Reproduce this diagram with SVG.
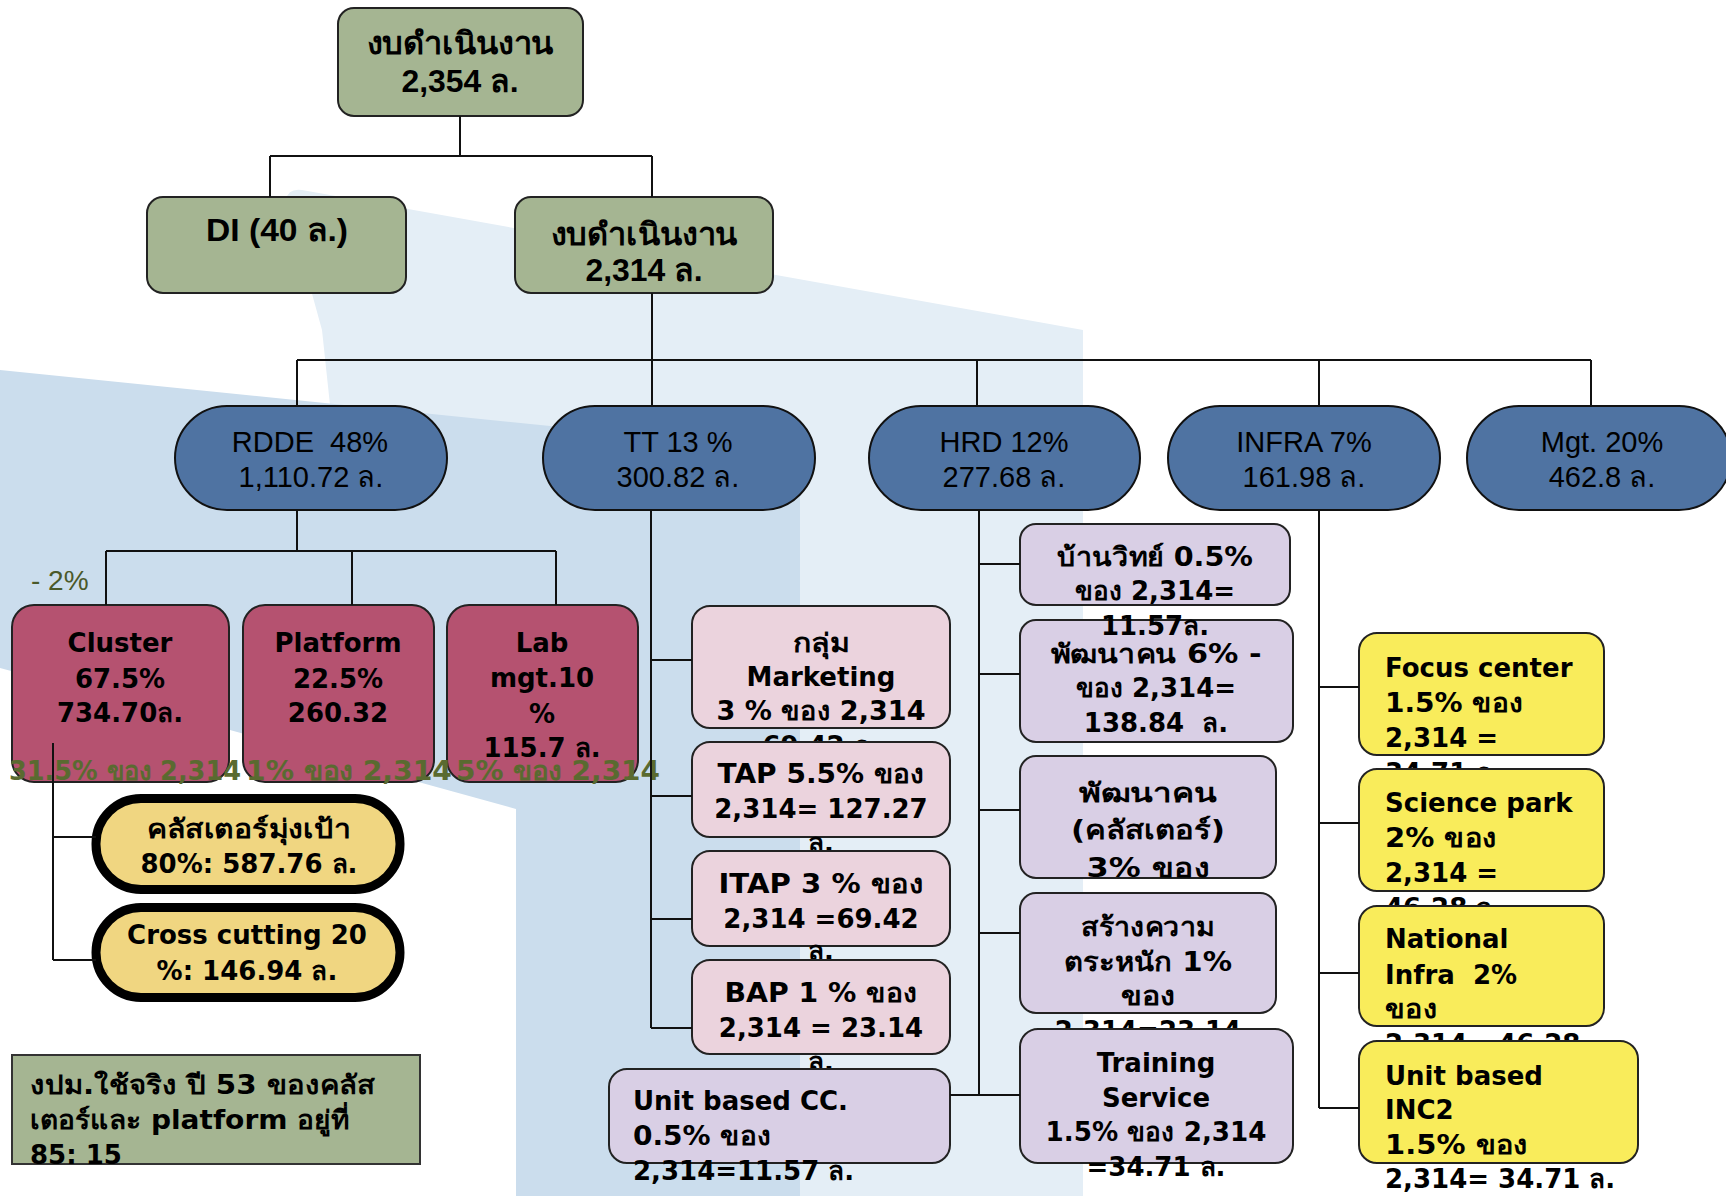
<svg xmlns="http://www.w3.org/2000/svg" width="1726" height="1196" viewBox="0 0 1726 1196">
<style>
.t{font-family:"DejaVu Sans","Noto Sans",sans-serif;font-weight:bold;font-size:26px;fill:#000}
.a{font-family:"Liberation Sans",Arial,sans-serif;fill:#000}
.ab{font-family:"Liberation Sans",Arial,sans-serif;font-weight:bold;font-size:31px;fill:#000}
.bn{font-family:"Liberation Sans",Arial,sans-serif;font-size:29px;fill:#000}
.m{text-anchor:middle}
.ol{font-family:"DejaVu Sans","Noto Sans",sans-serif;font-weight:bold;font-size:27px;fill:#5a6a30}
.ln{stroke:#111;stroke-width:2;fill:none}
.green{fill:#a5b592;stroke:#222;stroke-width:2}
.blue{fill:#4f73a2;stroke:#111;stroke-width:2}
.red{fill:#b55270;stroke:#222;stroke-width:2}
.pink{fill:#ebd3dd;stroke:#222;stroke-width:2}
.lav{fill:#d9cfe5;stroke:#222;stroke-width:2}
.yel{fill:#f9ec5b;stroke:#222;stroke-width:2}
.gold{fill:#f0d681;stroke:#000;stroke-width:9}
</style>
<defs>
<clipPath id="clipHrd3"><rect x="1020" y="756" width="256" height="122" rx="16"/></clipPath>
</defs>
<rect width="1726" height="1196" fill="#fff"/>
<g id="background">
<path d="M286,200 Q288,188 302,190 L1083,330 L1083,1196 L800,1196 L800,480 L330,405 L322,330 Q300,250 286,200 Z" fill="#e4eef6"/>
<polygon points="0,370 560,427 800,488 800,1196 516,1196 516,809 230,730 0,668" fill="#cbdded"/>
</g>

<g id="n-top"><rect class="green" x="338" y="8" width="245" height="108" rx="16"/>
<text class="ab m" x="460" y="54" textLength="187" lengthAdjust="spacingAndGlyphs">งบดำเนินงาน</text><text class="ab m" x="460" y="92" textLength="117" lengthAdjust="spacingAndGlyphs">2,354 ล.</text></g>
<g id="n-di"><rect class="green" x="147" y="197" width="259" height="96" rx="16"/>
<text class="ab m" x="277" y="241" textLength="142" lengthAdjust="spacingAndGlyphs">DI (40 ล.)</text></g>
<g id="n-ops"><rect class="green" x="515" y="197" width="258" height="96" rx="16"/>
<text class="ab m" x="644" y="245" textLength="187" lengthAdjust="spacingAndGlyphs">งบดำเนินงาน</text><text class="ab m" x="644" y="281" textLength="117" lengthAdjust="spacingAndGlyphs">2,314 ล.</text></g>

<g id="n-rdde"><rect class="blue" x="175" y="406" width="272" height="104" rx="52"/>
<text class="bn m" x="310" y="452" xml:space="preserve">RDDE  48%</text><text class="bn m" x="311" y="487">1,110.72 ล.</text></g>
<g id="n-tt"><rect class="blue" x="543" y="406" width="272" height="104" rx="52"/>
<text class="bn m" x="678" y="452">TT 13 %</text><text class="bn m" x="678" y="487">300.82 ล.</text></g>
<g id="n-hrd"><rect class="blue" x="869" y="406" width="271" height="104" rx="52"/>
<text class="bn m" x="1004" y="452">HRD 12%</text><text class="bn m" x="1004" y="487">277.68 ล.</text></g>
<g id="n-infra"><rect class="blue" x="1168" y="406" width="272" height="104" rx="52"/>
<text class="bn m" x="1304" y="452">INFRA 7%</text><text class="bn m" x="1304" y="487">161.98 ล.</text></g>
<g id="n-mgt"><rect class="blue" x="1467" y="406" width="264" height="104" rx="52"/>
<text class="bn m" x="1602" y="452">Mgt. 20%</text><text class="bn m" x="1602" y="487">462.8 ล.</text></g>

<text class="a" x="31" y="590" font-size="28" style="fill:#4a592a">- 2%</text>

<g id="n-cluster"><rect class="red" x="12" y="605" width="217" height="177" rx="22"/>
<text class="t m" x="120" y="652">Cluster</text><text class="t m" x="120" y="688">67.5%</text><text class="t m" x="120" y="722">734.70ล.</text></g>
<g id="n-platform"><rect class="red" x="243" y="605" width="191" height="177" rx="22"/>
<text class="t m" x="338" y="652">Platform</text><text class="t m" x="338" y="688">22.5%</text><text class="t m" x="338" y="722">260.32</text></g>
<g id="n-lab"><rect class="red" x="447" y="605" width="191" height="177" rx="22"/>
<text class="t m" x="542" y="652">Lab</text><text class="t m" x="542" y="687">mgt.10</text><text class="t m" x="542" y="723">%</text><text class="t m" x="542" y="757">115.7 ล.</text></g>
<g id="overlay-labels">
<text class="ol" x="9" y="780" textLength="232" lengthAdjust="spacingAndGlyphs">31.5% ของ 2,314</text>
<text class="ol" x="246" y="780" textLength="206" lengthAdjust="spacingAndGlyphs">1% ของ 2,314</text>
<text class="ol" x="456" y="780" textLength="204" lengthAdjust="spacingAndGlyphs">5% ของ 2,314</text>
</g>

<g id="n-target"><rect class="gold" x="96" y="798.5" width="304" height="91" rx="45"/>
<text class="t m" x="249" y="838" textLength="204" lengthAdjust="spacingAndGlyphs">คลัสเตอร์มุ่งเป้า</text><text class="t m" x="249" y="873">80%: 587.76 ล.</text></g>
<g id="n-cross"><rect class="gold" x="96" y="907.5" width="304" height="90" rx="45"/>
<text class="t m" x="247" y="944">Cross cutting 20</text><text class="t m" x="247" y="980">%: 146.94 ล.</text></g>

<g id="n-note"><rect x="12" y="1055" width="408" height="109" fill="#a5b592" stroke="#333" stroke-width="2"/>
<text class="t" x="30" y="1094" textLength="345" lengthAdjust="spacingAndGlyphs">งปม.ใช้จริง ปี 53 ของคลัส</text><text class="t" x="30" y="1129" textLength="319" lengthAdjust="spacingAndGlyphs">เตอร์และ platform อยู่ที่</text><text class="t" x="30" y="1164">85: 15</text></g>

<g id="n-mkt"><rect class="pink" x="692" y="606" width="258" height="122" rx="18"/>
<text class="t m" x="821" y="652" textLength="57" lengthAdjust="spacingAndGlyphs">กลุ่ม</text><text class="t m" x="821" y="686">Marketing</text><text class="t m" x="821" y="720" textLength="209" lengthAdjust="spacingAndGlyphs">3 % ของ 2,314</text><text class="t m" x="821" y="755">69.42 ล.</text></g>
<g id="n-tap"><rect class="pink" x="692" y="742" width="258" height="95" rx="18"/>
<text class="t m" x="821" y="783" textLength="207" lengthAdjust="spacingAndGlyphs">TAP 5.5% ของ</text><text class="t m" x="821" y="818">2,314= 127.27</text><text class="t m" x="821" y="852">ล.</text></g>
<g id="n-itap"><rect class="pink" x="692" y="851" width="258" height="95" rx="18"/>
<text class="t m" x="821" y="893" textLength="205" lengthAdjust="spacingAndGlyphs">ITAP 3 % ของ</text><text class="t m" x="821" y="928">2,314 =69.42</text><text class="t m" x="821" y="960">ล.</text></g>
<g id="n-bap"><rect class="pink" x="692" y="960" width="258" height="94" rx="18"/>
<text class="t m" x="821" y="1002" textLength="193" lengthAdjust="spacingAndGlyphs">BAP 1 % ของ</text><text class="t m" x="821" y="1037">2,314 = 23.14</text><text class="t m" x="821" y="1071">ล.</text></g>
<g id="n-ucc"><rect class="lav" x="609" y="1069" width="341" height="94" rx="18"/>
<text class="t" x="633" y="1110">Unit based CC.</text><text class="t" x="633" y="1145" textLength="138" lengthAdjust="spacingAndGlyphs">0.5% ของ</text><text class="t" x="633" y="1180">2,314=11.57 ล.</text></g>

<g id="n-hrd2"><rect class="lav" x="1020" y="620" width="273" height="122" rx="16"/>
<text class="t m" x="1156" y="663" textLength="211" lengthAdjust="spacingAndGlyphs">พัฒนาคน 6% -</text><text class="t m" x="1156" y="697" textLength="160" lengthAdjust="spacingAndGlyphs">ของ 2,314=</text><text class="t m" x="1156" y="732" xml:space="preserve">138.84  ล.</text></g>
<g id="n-hrd1"><rect class="lav" x="1020" y="524" width="270" height="81" rx="16"/>
<text class="t m" x="1155" y="566" textLength="196" lengthAdjust="spacingAndGlyphs">บ้านวิทย์ 0.5%</text><text class="t m" x="1155" y="600" textLength="160" lengthAdjust="spacingAndGlyphs">ของ 2,314=</text><text class="t m" x="1155" y="635">11.57ล.</text></g>
<g id="n-hrd3"><rect class="lav" x="1020" y="756" width="256" height="122" rx="16"/>
<g clip-path="url(#clipHrd3)"><text class="t m" x="1148" y="802" textLength="138" lengthAdjust="spacingAndGlyphs">พัฒนาคน</text><text class="t m" x="1148" y="839" textLength="154" lengthAdjust="spacingAndGlyphs">(คลัสเตอร์)</text><text class="t m" x="1148" y="877" textLength="123" lengthAdjust="spacingAndGlyphs">3% ของ</text></g></g>
<g id="n-hrd4"><rect class="lav" x="1020" y="893" width="256" height="120" rx="16"/>
<text class="t m" x="1148" y="936" textLength="134" lengthAdjust="spacingAndGlyphs">สร้างความ</text><text class="t m" x="1148" y="971" textLength="168" lengthAdjust="spacingAndGlyphs">ตระหนัก 1%</text><text class="t m" x="1148" y="1005" textLength="55" lengthAdjust="spacingAndGlyphs">ของ</text><text class="t m" x="1148" y="1040">2,314=23.14</text></g>
<g id="n-hrd5"><rect class="lav" x="1020" y="1029" width="273" height="134" rx="18"/>
<text class="t m" x="1156" y="1072">Training</text><text class="t m" x="1156" y="1107">Service</text><text class="t m" x="1156" y="1141" textLength="221" lengthAdjust="spacingAndGlyphs">1.5% ของ 2,314</text><text class="t m" x="1156" y="1176">=34.71 ล.</text></g>

<g id="n-focus"><rect class="yel" x="1359" y="633" width="245" height="122" rx="18"/>
<text class="t" x="1385" y="677">Focus center</text><text class="t" x="1385" y="712" textLength="138" lengthAdjust="spacingAndGlyphs">1.5% ของ</text><text class="t" x="1385" y="747">2,314 =</text><text class="t" x="1385" y="782">34.71 ล.</text></g>
<g id="n-sci"><rect class="yel" x="1359" y="769" width="245" height="122" rx="18"/>
<text class="t" x="1385" y="812">Science park</text><text class="t" x="1385" y="847" textLength="112" lengthAdjust="spacingAndGlyphs">2% ของ</text><text class="t" x="1385" y="882">2,314 =</text><text class="t" x="1385" y="917">46.28 ล.</text></g>
<g id="n-natinfra"><rect class="yel" x="1359" y="906" width="245" height="120" rx="18"/>
<text class="t" x="1385" y="948">National</text><text class="t" x="1385" y="984" xml:space="preserve">Infra  2%</text><text class="t" x="1385" y="1018" textLength="52" lengthAdjust="spacingAndGlyphs">ของ</text><text class="t" x="1385" y="1053">2,314= 46.28</text></g>
<g id="n-inc2"><rect class="yel" x="1359" y="1041" width="279" height="122" rx="18"/>
<text class="t" x="1385" y="1085">Unit based</text><text class="t" x="1385" y="1119">INC2</text><text class="t" x="1385" y="1154" textLength="143" lengthAdjust="spacingAndGlyphs">1.5% ของ</text><text class="t" x="1385" y="1188">2,314= 34.71 ล.</text></g>

<g id="connectors" class="ln">
<path d="M460,116 V156 M270,156 H652 M270,156 V197 M652,156 V197"/>
<path d="M652,293 V360 M297,360 H1591 M297,360 V406 M652,360 V406 M977,360 V406 M1319,360 V406 M1591,360 V406"/>
<path d="M297,510 V551 M106,551 H556 M106,551 V605 M352,551 V605 M556,551 V605"/>
<path d="M53,743 V960 M53,837 H96 M53,960 H96"/>
<path d="M651,510 V1028 M651,660 H692 M651,796 H692 M651,919 H692 M651,1028 H692"/>
<path d="M979,510 V1095 M979,564 H1020 M979,674 H1020 M979,810 H1020 M979,933 H1020 M950,1095 H1020"/>
<path d="M1319,510 V1108 M1319,687 H1359 M1319,823 H1359 M1319,973 H1359 M1319,1108 H1359"/>
</g>
</svg>
